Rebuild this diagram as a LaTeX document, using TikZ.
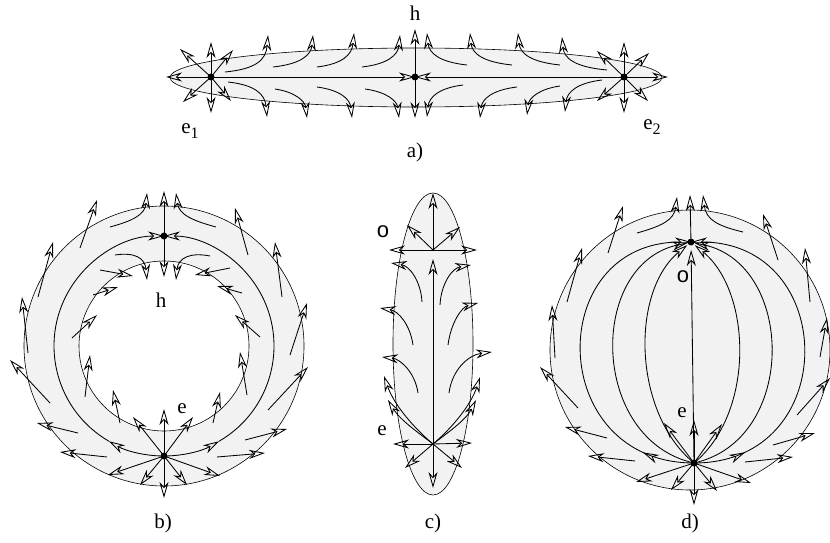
\documentclass[tikz,border=0pt]{standalone}
\usepackage{fontspec}
\setmainfont{Liberation Serif}
\newfontfamily\sansf{Liberation Sans}
\usetikzlibrary{arrows.meta,decorations.markings}
\definecolor{panelgray}{gray}{0.95}
\begin{document}
\begin{tikzpicture}[x=1pt,y=-1pt,
  arr/.style={line width=0.85pt,-{Stealth[open,length=16pt,width=9pt,inset=5pt]}},
  bd/.style={line width=0.6pt},
  midarr/.style={postaction={decorate},decoration={markings,mark=at position #1 with {\arrow{Stealth[open,length=16pt,width=9pt,inset=5pt]}}}},
  lab/.style={font=\fontsize{21}{25}\selectfont, inner sep=0pt},
  osym/.style={font=\sansf\fontsize{22}{26}\selectfont, inner sep=0pt}]
\useasboundingbox (0,0) rectangle (830,543);

% ================= a) =================
\coordinate (e1) at (211,77);
\coordinate (ha) at (415,77);
\coordinate (e2) at (624,77);
\filldraw[fill=panelgray,bd] (416,77.5) ellipse [x radius=246, y radius=29.5];
\draw[arr] (e1) -- (ha);
\draw[arr] (e2) -- (ha);
\draw[arr] (ha) -- (415,29);
\draw[arr] (ha) -- (415,118);
\foreach \dx/\dy in {0/-35, 0/36, -45/0, -31/-28, 22/-27, -28/25, 20/24}
  \draw[arr] (e1) -- ++(\dx,\dy);
\foreach \dx/\dy in {0/-35, 0/36, 44/0, -27/-26, 25/-24, -27/24, 24/24}
  \draw[arr] (e2) -- ++(\dx,\dy);
% hooks
\foreach \sx/\sy/\tx/\ty in {225/72/268/35, 273/67/313/35, 317/67/354/33, 362/67/400/35}
  \draw[arr] (\sx,\sy) .. controls ({\tx-12},{\sy-3}) and ({\tx-2},{\sy-12}) .. (\tx,\ty);
\foreach \sx/\sy/\tx/\ty in {228/82/267/117, 275/89/307/118, 317/87/352/118, 365/89/399/118}
  \draw[arr] (\sx,\sy) .. controls ({\tx-12},{\sy+3}) and ({\tx-2},{\sy+12}) .. (\tx,\ty);
\foreach \sx/\sy/\tx/\ty in {467/65/427/33, 512/65/470/33, 560/65/518/33, 607/70/562/37}
  \draw[arr] (\sx,\sy) .. controls ({\tx+12},{\sy-3}) and ({\tx+2},{\sy-12}) .. (\tx,\ty);
\foreach \sx/\sy/\tx/\ty in {463/85/427/117, 517/87/480/118, 560/86/527/115, 602/80/565/112}
  \draw[arr] (\sx,\sy) .. controls ({\tx+12},{\sy+3}) and ({\tx+2},{\sy+12}) .. (\tx,\ty);
\fill (e1) circle (3.5); \fill (ha) circle (3.5); \fill (e2) circle (3.5);
\node[lab] (lha) at (415,13) {h};
\node[lab] (le1) at (190,131) {e\raisebox{-0.45ex}{\fontsize{16}{18}\selectfont 1}};
\node[lab] (le2) at (652,127) {e\raisebox{-0.45ex}{\fontsize{16}{18}\selectfont 2}};
\node[lab] (capa) at (415,152) {a)};

% ================= b) =================
\coordinate (bc) at (164,346);
\coordinate (hb) at (164,236);
\coordinate (eb) at (164,456);
\fill[panelgray, even odd rule] (bc) circle (140) (bc) circle (85);
\draw[bd] (bc) circle (140);
\draw[bd] (bc) circle (85);
\draw[arr] (eb) arc[start angle=90, end angle=120, radius=110];
\draw[arr] ([shift={(bc)}]120:110) arc[start angle=120, end angle=270, radius=110];
\draw[arr] (eb) arc[start angle=90, end angle=60, radius=110];
\draw[arr] ([shift={(bc)}]60:110) arc[start angle=60, end angle=-90, radius=110];
\draw[arr] (hb) -- ++(0,-45);
\draw[arr] (hb) -- ++(0,41);
\foreach \dx/\dy in {0/-47, 0/42, -31/-39, 29/-39, -56/19, 56/20, -24/29, 23/29}
  \draw[arr] (eb) -- ++(\dx,\dy);
% outer ring
\foreach \sx/\sy/\tx/\ty in {80/248/97/200, 38/297/53/242, 28/353/22/297, 50/403/10/360, 78/433/37/423, 107/457/60/452,
  248/255/235/208, 282/297/275/242, 290/355/307/303, 268/410/308/367, 245/440/287/429, 217/457/265/453}
  \draw[arr] (\sx,\sy) -- (\tx,\ty);
\draw[arr] (110,227) .. controls (132,221) and (145,215) .. (147,193);
\draw[arr] (216,227) .. controls (194,221) and (179,215) .. (176,193);
% inner ring
\draw[arr] (115,255) .. controls (135,252) and (145,258) .. (147,280);
\draw[arr] (210,256) .. controls (190,252) and (178,258) .. (176,280);
\foreach \sx/\sy/\tx/\ty in {100/270/133/276, 93/295/118/287, 72/338/97/315, 85/397/90/355, 120/423/113/390,
  230/268/195/275, 242/293/217/286, 260/337/235/315, 247/395/240/352, 213/423/220/392}
  \draw[arr] (\sx,\sy) -- (\tx,\ty);
\fill (hb) circle (3.5); \fill (eb) circle (3.5);
\node[lab] (lhb) at (161,300) {h};
\node[lab] (leb) at (182,409) {e};
\node[lab] (capb) at (163,523) {b)};

% ================= c) =================
\coordinate (cc) at (433,344);
\coordinate (oc) at (433,250);
\coordinate (ec) at (433,444);
\filldraw[fill=panelgray,bd] (cc) ellipse [x radius=40, y radius=151];
\draw[arr,shorten >=9pt] (ec) -- (oc);
\draw[arr] (oc) -- (433,193);
\draw[arr] (ec) -- (433,488);
\foreach \tx/\ty in {389/250, 477/250, 407/225, 460/227}
  \draw[arr] (oc) -- (\tx,\ty);
\foreach \tx/\ty in {393/444, 472/443, 405/468, 462/468}
  \draw[arr] (ec) -- (\tx,\ty);
\draw[arr] (422,302) .. controls (421,282) and (410,266) .. (391,263);
\draw[arr] (413,345) .. controls (410,324) and (398,311) .. (380,308);
\draw[arr] (418,393) .. controls (415,372) and (400,359) .. (382,357);
\draw[arr] (ec) .. controls (414,428) and (394,405) .. (384,376);
\draw[arr] (ec) .. controls (420,434) and (400,420) .. (388,400);
\draw[arr] (440,305) .. controls (441,284) and (452,268) .. (471,265);
\draw[arr] (448,345) .. controls (451,322) and (462,307) .. (478,303);
\draw[arr] (449,393) .. controls (452,370) and (468,355) .. (492,352);
\draw[arr] (ec) .. controls (452,428) and (471,405) .. (480,377);
\draw[arr] (ec) .. controls (446,434) and (466,420) .. (476,400);
\node[osym] (loc) at (383,232) {o};
\node[lab] (lec) at (382,431) {e};
\node[lab] (capc) at (433,523) {c)};

% ================= d) =================
\coordinate (dc) at (690,350);
\coordinate (od) at (691,242);
\coordinate (ed) at (694,463);
\filldraw[fill=panelgray,bd] (dc) circle (140);
\draw[arr,shorten >=8pt] (ed) -- (od);
\draw[arr] (od) -- (690,195);
% meridians
\draw[arr,midarr=0.15] (ed) .. controls (546,463) and (543,242) .. (od);
\draw[arr,midarr=0.15] (ed) .. controls (842,463) and (839,242) .. (od);
\draw[arr,shorten >=3pt] (ed) .. controls (590,440) and (587,265) .. (od);
\draw[arr,shorten >=3pt] (ed) .. controls (798,440) and (795,265) .. (od);
\draw[arr,shorten >=5pt] (ed) .. controls (633,413) and (630,292) .. (od);
\draw[arr,shorten >=5pt] (ed) .. controls (755,413) and (752,292) .. (od);
\foreach \dx/\dy in {0/-43, 0/42, -30/-40, 28/-39, -58/19, 57/20, -23/27, 23/28}
  \draw[arr] (ed) -- ++(\dx,\dy);
\foreach \sx/\sy/\tx/\ty in {608/253/623/206, 567/302/582/248, 555/358/552/305, 578/408/540/367, 607/438/565/427, 635/461/588/456,
  778/260/763/214, 810/302/805/248, 820/357/827/318, 797/415/830/378, 773/445/815/433, 745/462/793/457}
  \draw[arr] (\sx,\sy) -- (\tx,\ty);
\draw[arr] (637,233) .. controls (662,226) and (674,220) .. (677,197);
\draw[arr] (743,232) .. controls (718,226) and (706,220) .. (703,195);
\fill (od) circle (3.5); \fill (ed) circle (3.5);
\node[osym] (lod) at (683,277) {o};
\node[lab] (led) at (682,413) {e};
\node[lab] (capd) at (690,523) {d)};
\end{tikzpicture}
\end{document}
